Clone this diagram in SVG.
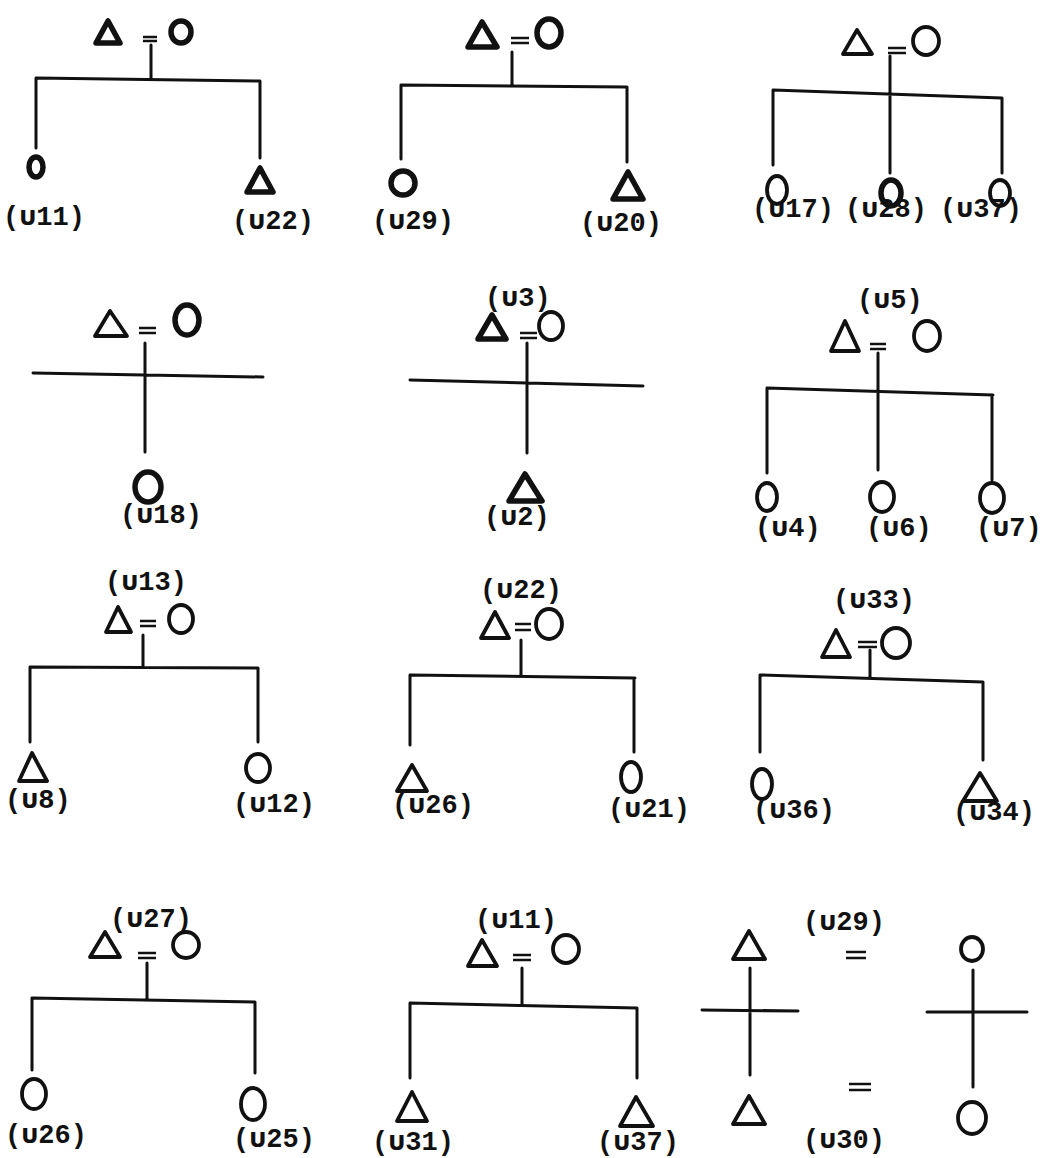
<svg xmlns="http://www.w3.org/2000/svg" width="1041" height="1158" viewBox="0 0 1041 1158">
<style>
.ln{stroke:#111;stroke-width:3;fill:none;stroke-linecap:round}
.sym{stroke:#111;stroke-width:3.8;fill:none;stroke-linejoin:round}
.thk{stroke-width:5.5}
.eq{stroke:#111;stroke-width:2.4;fill:none}
.lbl{font-family:"Liberation Mono","DejaVu Sans Mono","Noto Sans Thai",monospace;font-weight:bold;font-size:27px;fill:#111}
</style>
<rect width="1041" height="1158" fill="#fff"/>

<!-- Diagram 1 -->
<g id="d1">
<polygon class="sym thk" points="96,43 108,21 120,43"/>
<path class="eq" d="M143,37 H157 M143,41 H157"/>
<ellipse class="sym thk" cx="181" cy="32" rx="10" ry="11"/>
<ellipse class="sym thk" cx="36" cy="167" rx="7" ry="10"/>
<polygon class="sym thk" points="247,192 260,168 273,192"/>
<text class="lbl" x="3" y="225">(บ11)</text>
<text class="lbl" x="232" y="229">(บ22)</text>
</g>
<!-- Diagram 2 -->
<g id="d2">
<polygon class="sym thk" points="468,47 482,22 497,47"/>
<path class="eq" d="M511,38 H529 M511,43 H529"/>
<ellipse class="sym thk" cx="549" cy="33" rx="12" ry="14"/>
<ellipse class="sym thk" cx="403" cy="183" rx="12" ry="12"/>
<polygon class="sym thk" points="613,199 628,172 643,199"/>
<text class="lbl" x="372" y="229">(บ29)</text>
<text class="lbl" x="580" y="231">(บ20)</text>
</g>
<!-- Diagram 3 -->
<g id="d3">
<polygon class="sym" points="843,54 857,30 872,54"/>
<path class="eq" d="M888,48 H906 M888,53 H906"/>
<ellipse class="sym" cx="926" cy="41" rx="13" ry="14"/>
<ellipse class="sym" cx="777" cy="190" rx="10" ry="14"/>
<ellipse class="sym thk" cx="891" cy="193" rx="10" ry="13"/>
<ellipse class="sym" cx="1000" cy="193" rx="10" ry="13"/>
<text class="lbl" x="752" y="217">(บ17)</text>
<text class="lbl" x="845" y="217">(บ28)</text>
<text class="lbl" x="940" y="217">(บ37)</text>
</g>
<!-- Diagram 4 -->
<g id="d4">
<polygon class="sym" points="95,336 110,311 127,336"/>
<path class="eq" d="M139,328 H156 M139,333 H156"/>
<ellipse class="sym thk" cx="187" cy="320" rx="12" ry="15"/>
<ellipse class="sym thk" cx="148" cy="487" rx="13" ry="15"/>
<text class="lbl" x="120" y="523">(บ18)</text>
</g>
<!-- Diagram 5 -->
<g id="d5">
<text class="lbl" x="485" y="306">(บ3)</text>
<polygon class="sym thk" points="478,339 492,315 506,339"/>
<path class="eq" d="M520,333 H537 M520,338 H537"/>
<ellipse class="sym" cx="551" cy="326" rx="12" ry="14"/>
<polygon class="sym thk" points="509,501 525,474 542,501"/>
<text class="lbl" x="484" y="525">(บ2)</text>
</g>
<!-- Diagram 6 -->
<g id="d6">
<text class="lbl" x="857" y="308">(บ5)</text>
<polygon class="sym" points="831,351 845,321 859,351"/>
<path class="eq" d="M870,344 H886 M870,349 H886"/>
<ellipse class="sym" cx="927" cy="336" rx="13" ry="15"/>
<ellipse class="sym" cx="767" cy="497" rx="10" ry="14"/>
<ellipse class="sym" cx="882" cy="497" rx="12" ry="15"/>
<ellipse class="sym" cx="992" cy="498" rx="12" ry="15"/>
<text class="lbl" x="755" y="536">(บ4)</text>
<text class="lbl" x="866" y="536">(บ6)</text>
<text class="lbl" x="976" y="536">(บ7)</text>
</g>
<!-- Diagram 7 -->
<g id="d7">
<text class="lbl" x="105" y="590">(บ13)</text>
<polygon class="sym" points="106,632 118,607 131,632"/>
<path class="eq" d="M140,621 H156 M140,626 H156"/>
<ellipse class="sym" cx="181" cy="619" rx="12" ry="14"/>
<polygon class="sym" points="19,781 32,753 47,781"/>
<ellipse class="sym" cx="258" cy="768" rx="12" ry="14"/>
<text class="lbl" x="5" y="808">(บ8)</text>
<text class="lbl" x="233" y="812">(บ12)</text>
</g>
<!-- Diagram 8 -->
<g id="d8">
<text class="lbl" x="480" y="598">(บ22)</text>
<polygon class="sym" points="481,638 495,612 509,638"/>
<path class="eq" d="M515,624 H531 M515,630 H531"/>
<ellipse class="sym" cx="549" cy="624" rx="13" ry="15"/>
<polygon class="sym" points="397,791 412,765 427,791"/>
<ellipse class="sym" cx="631" cy="777" rx="10" ry="15"/>
<text class="lbl" x="392" y="813">(บ26)</text>
<text class="lbl" x="608" y="817">(บ21)</text>
</g>
<!-- Diagram 9 -->
<g id="d9">
<text class="lbl" x="833" y="608">(บ33)</text>
<polygon class="sym" points="822,657 836,630 850,657"/>
<path class="eq" d="M858,642 H877 M858,647 H877"/>
<ellipse class="sym" cx="896" cy="643" rx="14" ry="15"/>
<ellipse class="sym" cx="762" cy="784" rx="10" ry="15"/>
<polygon class="sym" points="963,801 980,773 997,801"/>
<text class="lbl" x="953" y="820">(บ34)</text>
<text class="lbl" x="753" y="818">(บ36)</text>
</g>
<!-- Diagram 10 -->
<g id="d10">
<text class="lbl" x="110" y="927">(บ27)</text>
<polygon class="sym" points="90,957 105,932 120,957"/>
<path class="eq" d="M138,953 H156 M138,958 H156"/>
<ellipse class="sym" cx="186" cy="945" rx="13" ry="13"/>
<ellipse class="sym" cx="34" cy="1094" rx="12" ry="15"/>
<ellipse class="sym" cx="253" cy="1104" rx="12" ry="16"/>
<text class="lbl" x="5" y="1143">(บ26)</text>
<text class="lbl" x="233" y="1147">(บ25)</text>
</g>
<!-- Diagram 11 -->
<g id="d11">
<text class="lbl" x="475" y="928">(บ11)</text>
<polygon class="sym" points="468,966 482,940 497,966"/>
<path class="eq" d="M513,955 H531 M513,960 H531"/>
<ellipse class="sym" cx="566" cy="949" rx="13" ry="14"/>
<polygon class="sym" points="397,1121 412,1092 427,1121"/>
<polygon class="sym" points="620,1126 636,1097 653,1126"/>
<text class="lbl" x="372" y="1150">(บ31)</text>
<text class="lbl" x="597" y="1150">(บ37)</text>
</g>
<!-- Diagram 12 -->
<g id="d12">
<polygon class="sym" points="733,959 749,931 765,959"/>
<polygon class="sym" points="733,1124 749,1096 765,1124"/>
<text class="lbl" x="803" y="930">(บ29)</text>
<path class="eq" d="M846,952 H866 M846,958 H866"/>
<path class="eq" d="M849,1084 H871 M849,1090 H871"/>
<text class="lbl" x="803" y="1148">(บ30)</text>
<ellipse class="sym" cx="972" cy="949" rx="11" ry="12"/>
<ellipse class="sym" cx="972" cy="1118" rx="14" ry="16"/>
</g>

<!-- Connectors -->
<g id="connectors">
<path class="ln" d="M151,45 V79 M36,78 L260,81 M36,78 V148 M260,81 V158"/>
<path class="ln" d="M512,52 V85 M401,85 L627,87 M401,85 V159 M627,87 V162"/>
<path class="ln" d="M890,56 V173 M773,90 L1002,98 M773,90 V165 M1002,98 V173"/>
<path class="ln" d="M145,343 V452 M33,373 L263,377"/>
<path class="ln" d="M527,343 V453 M410,380 L643,386"/>
<path class="ln" d="M878,353 V470 M767,388 L993,395 M767,388 V473 M992,395 V480"/>
<path class="ln" d="M143,635 V667 M30,667 L258,668 M30,667 V742 M258,668 V742"/>
<path class="ln" d="M521,640 V675 M410,675 L635,678 M410,675 V745 M634,678 V752"/>
<path class="ln" d="M870,650 V678 M760,675 L983,682 M760,675 V752 M983,682 V760"/>
<path class="ln" d="M147,963 V1000 M32,998 L255,1002 M32,998 V1070 M255,1002 V1073"/>
<path class="ln" d="M522,968 V1005 M410,1003 L637,1008 M410,1003 V1078 M637,1008 V1078"/>
<path class="ln" d="M750,968 V1075 M702,1010 L798,1011"/>
<path class="ln" d="M973,970 V1087 M927,1012 L1027,1012"/>
</g>
</svg>
